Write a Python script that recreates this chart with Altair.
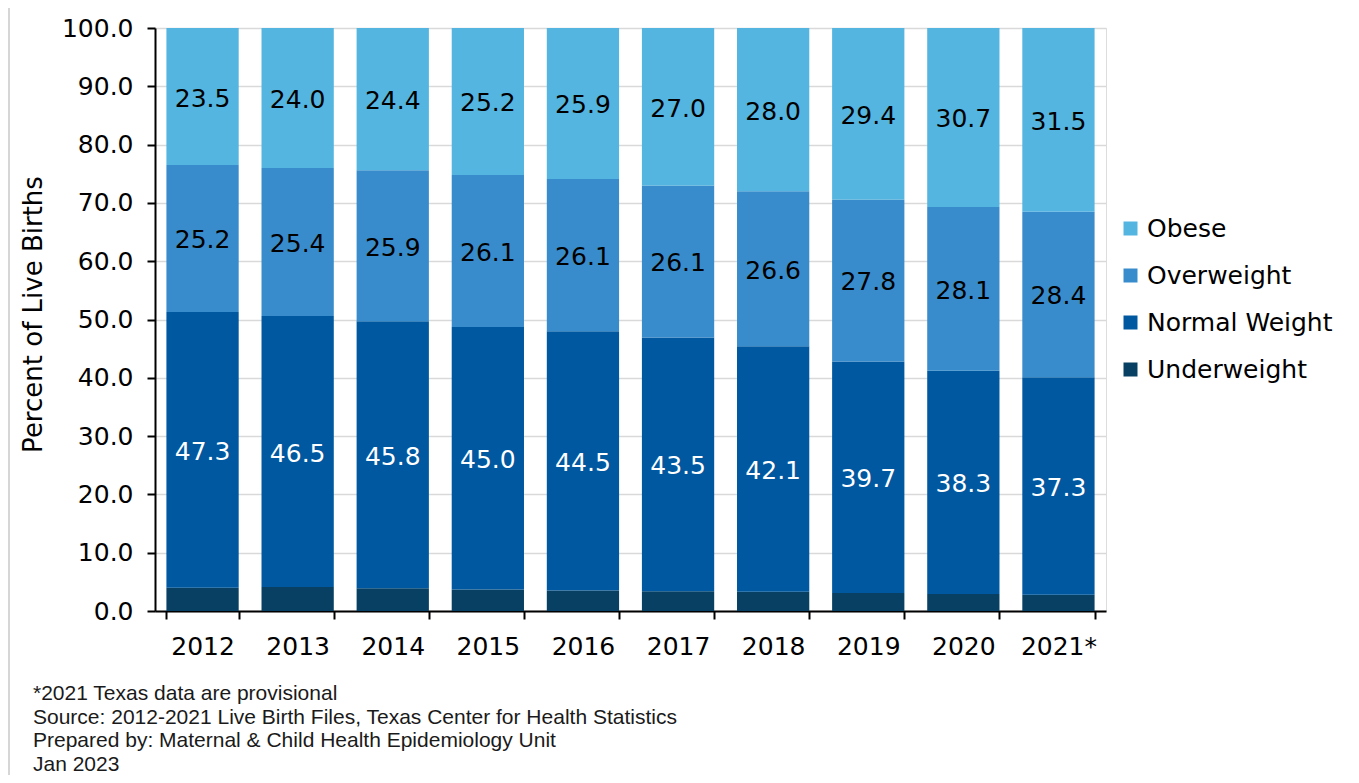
import altair as alt
import pandas as pd

years = ["2012", "2013", "2014", "2015", "2016", "2017", "2018", "2019", "2020", "2021*"]
underweight = [4.0, 4.1, 3.9, 3.7, 3.5, 3.4, 3.3, 3.1, 2.9, 2.8]
normal = [47.3, 46.5, 45.8, 45.0, 44.5, 43.5, 42.1, 39.7, 38.3, 37.3]
overweight = [25.2, 25.4, 25.9, 26.1, 26.1, 26.1, 26.6, 27.8, 28.1, 28.4]
obese = [23.5, 24.0, 24.4, 25.2, 25.9, 27.0, 28.0, 29.4, 30.7, 31.5]

categories = ["Underweight", "Normal Weight", "Overweight", "Obese"]
legend_order = ["Obese", "Overweight", "Normal Weight", "Underweight"]
colors = {"Obese": "#53b5e0", "Overweight": "#398ccb", "Normal Weight": "#0058a0", "Underweight": "#074063"}
label_colors = {"Underweight": "white", "Normal Weight": "white", "Overweight": "black", "Obese": "black"}

rows = []
series = {"Underweight": underweight, "Normal Weight": normal, "Overweight": overweight, "Obese": obese}
for i, y in enumerate(years):
    for k, c in enumerate(categories):
        rows.append({"year": y, "cat": c, "order": k, "value": series[c][i],
                     "show": c != "Underweight", "lc": label_colors[c]})
df = pd.DataFrame(rows)

footnotes = [
    "*2021 Texas data are provisional",
    "Source: 2012-2021 Live Birth Files, Texas Center for Health Statistics",
    "Prepared by: Maternal & Child Health Epidemiology Unit",
    "Jan 2023",
]

FONT = "DejaVu Sans"

base = alt.Chart(df).transform_stack(
    stack="value", groupby=["year"], as_=["y0", "y1"], sort=[alt.SortField("order", "ascending")]
).transform_calculate(mid="(datum.y0 + datum.y1) / 2")

xenc = alt.X("year:N", sort=years, title=None,
             scale=alt.Scale(paddingInner=0.24, paddingOuter=0.12),
             axis=alt.Axis(labelAngle=0, labelFontSize=25, labelFont=FONT, labelColor="black",
                           domainColor="black", domainWidth=2, tickColor="black", tickWidth=2,
                           tickSize=8, tickBand="extent", labelPadding=15, grid=False))

bars = base.mark_bar().encode(
    x=xenc,
    y=alt.Y("y0:Q", title="Percent of Live Births",
            scale=alt.Scale(domain=[0, 100], nice=False),
            axis=alt.Axis(values=list(range(0, 101, 10)), format=".1f", labelFontSize=25,
                          labelFont=FONT, labelColor="black", domainColor="black", domainWidth=2,
                          tickColor="black", tickWidth=2, tickSize=8, labelPadding=14,
                          gridColor="#d9d9d9", gridWidth=1.5,
                          titleFont=FONT, titleFontSize=26, titleFontWeight="normal",
                          titleColor="black", titleX=-122, titleY=286, titleAngle=-90,
                          titleAlign="center", titleBaseline="middle")),
    y2="y1:Q",
    color=alt.Color("cat:N", sort=legend_order,
                    scale=alt.Scale(domain=legend_order, range=[colors[c] for c in legend_order]),
                    legend=alt.Legend(title=None, orient="none", legendX=963, legendY=188,
                                      symbolType="square", symbolSize=196, symbolStrokeWidth=0,
                                      labelFontSize=25, labelFont=FONT, labelColor="black",
                                      labelLimit=0, rowPadding=21, labelOffset=4, padding=0)),
)

labels = base.transform_filter("datum.show").mark_text(font=FONT, fontSize=25, dy=2).encode(
    x=alt.X("year:N", sort=years),
    y=alt.Y("mid:Q"),
    text=alt.Text("value:Q", format=".1f"),
    color=alt.Color("lc:N", scale=None),
)

foot_df = pd.DataFrame({"t": ["\n".join(footnotes)]})
foot = alt.Chart(foot_df).mark_text(
    font="Liberation Sans", fontSize=21, align="left", baseline="alphabetic",
    lineBreak="\n", lineHeight=23.5, color="#1a1a1a"
).encode(x=alt.value(-122), y=alt.value(672), text="t:N")

border = alt.Chart(pd.DataFrame({"k": [0]})).mark_rule(color="#c8c8c8", strokeWidth=1.5).encode(
    x=alt.value(-146), y=alt.value(-23), y2=alt.value(760)
)

chart = alt.layer(bars, labels, foot, border).properties(
    width=951, height=583,
    autosize=alt.AutoSizeParams(type="none"),
    padding={"left": 147, "top": 20, "right": 245, "bottom": 164},
).configure_view(stroke=None).configure(background="white")

chart.save("out.html", embed_options={"renderer": "svg", "actions": False})
